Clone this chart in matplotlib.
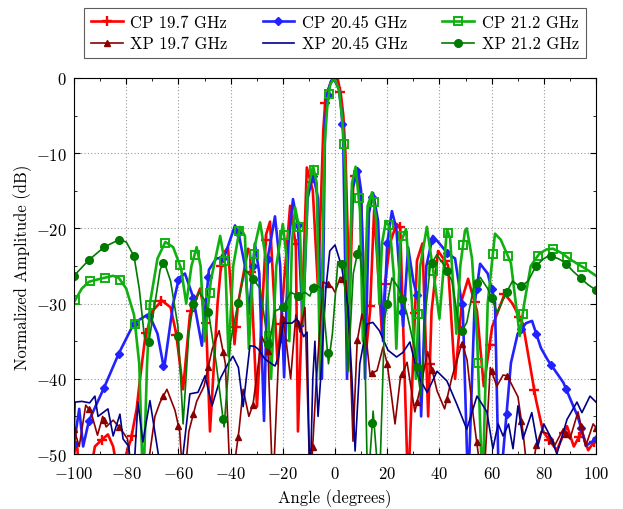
import numpy as np
import matplotlib
matplotlib.use("Agg")
import matplotlib.pyplot as plt
from matplotlib.ticker import MultipleLocator

plt.rcParams.update({
    "font.family": "serif",
    "font.serif": ["cmr10"],
    "mathtext.fontset": "cm",
    "axes.formatter.use_mathtext": True,
    "axes.unicode_minus": True,
})

# ── data (angle in degrees, amplitude in dB) ─────────────────────────────────
cp197_ang = [-100, -98.9, -97.5, -95, -92, -89, -87, -85, -82, -80, -78.2, -76, -74.7, -72.8,
             -70, -66.3, -63, -60.9, -58.2, -55.6, -51.7, -49.4, -47.9, -45, -43.3, -41, -38.5,
             -37.2, -33.3, -32.6, -29.9, -26.4, -24.9, -22, -17.2, -15, -14.2, -10.8, -8.5, -6.5,
             -4.5, -3.8, -2.5, -1.5, 1, 2.3, 3.2, 4, 5.6, 7, 8.3, 10, 12, 13.4, 15, 18, 19.2, 21,
             23.6, 25, 28, 31.4, 33.5, 35.7, 37, 39.5, 43.3, 46, 48.7, 51, 54.4, 57, 60.2, 65,
             68, 72, 77, 79.7, 82.4, 85, 88.9, 91.5, 94.6, 97, 100]
cp197_val = [-50, -48.4, -55, -55, -49, -48, -47.4, -49, -55, -50, -48.1, -44, -40, -34.7,
             -31, -29.6, -30.5, -33.9, -41.4, -31.5, -28, -32.3, -47, -30, -23.6, -22.5, -35.4,
             -30.1, -22.7, -23, -43.7, -20.8, -19.1, -38, -17, -22.3, -47, -11.9, -15, -28,
             -7, -3.5, -1.5, -0.5, 0, -2.3, -5, -10, -30, -14, -12.4, -16, -36, -31.1, -17.5,
             -34, -27.4, -22, -19.4, -19.9, -55, -24.3, -22, -45, -31, -23, -24.9, -40, -29.4,
             -26.7, -31, -41, -33.1, -28.7, -30, -32.7, -42.8, -47, -48.3, -49.5, -46.3, -49,
             -47, -49.5, -48]

cp2045_ang = [-100, -98, -96.5, -94.3, -88.5, -82.8, -77, -72, -70.9, -68, -65.5, -62, -59.8,
              -57.5, -54.4, -51, -48.3, -45.5, -42.5, -38.3, -36.8, -34.5, -33, -30.7, -29,
              -27.2, -25.7, -23, -21, -19.5, -17.8, -16.1, -14.2, -12.3, -10.5, -8.4, -6.5, -5,
              -3.8, -2.7, -1.5, -0.5, 1.5, 2.3, 3.1, 4.6, 6.5, 8.8, 10, 11.5, 13, 14.6, 16.5,
              18.4, 20, 21.8, 23.5, 26.1, 28, 30, 31.8, 33, 35, 37.5, 40, 43.3, 46, 49, 51, 53.5,
              55.6, 58.5, 61.3, 62.8, 64.4, 67.4, 70, 73.2, 75.5, 78.9, 81.5, 84.7, 87.5, 90.4,
              93, 96.2, 100]
cp2045_val = [-48.7, -44, -49, -45.6, -41.2, -36.6, -32.6, -31.5, -31.7, -34, -38.7, -30, -26.6,
              -26, -29.1, -35.6, -25.5, -24, -23.9, -19.6, -20.9, -25, -31.4, -22, -26,
              -45.6, -23.8, -18.4, -25, -39.8, -22, -16.1, -19.7, -33, -16, -12.8, -16, -40,
              -6, -1.7, -0.4, 0, -1.5, -3.8, -7.2, -40, -15, -12.1, -15, -40, -18, -15.3, -19,
              -35, -22, -17.7, -20, -33, -22.5, -27, -29.4, -45, -25, -21, -22, -23.4, -24, -31,
              -55, -30, -24.7, -26, -29.8, -55, -50, -37.9, -34, -32.6, -32.3, -35.9, -37.5,
              -39.1, -40.5, -42.9, -45, -48.9, -48]

cp212_ang = [-100, -97, -94.3, -90, -85, -82.8, -80, -77, -75, -73.5, -72, -70.9, -68, -65,
             -62, -59, -57, -55, -53, -51.5, -50, -48.5, -47.6, -44, -42, -40.8, -39, -36.4,
             -34.5, -33, -31.5, -30.7, -28.7, -26.5, -24.5, -22.5, -20, -18.5, -17.5, -16.5,
             -15.3, -13.4, -12.3, -10.5, -8.4, -7, -5.7, -4, -3, -1.9, -0.4, 1.5, 2.8, 3.9, 5,
             6.5, 7.9, 9.6, 10.7, 12.5, 14.2, 15.7, 17, 18, 19.5, 21, 22.5, 23.5, 25, 27.2, 29.5,
             31, 32.6, 35.2, 37.9, 40, 42.9, 44.1, 46.5, 48, 49.8, 50.5, 52.5, 54.5, 56.5, 58.5,
             61.3, 63.5, 67.4, 70.8, 72.4, 75, 78.2, 81, 83.5, 87, 90, 96.2, 100]
cp212_val = [-29.8, -28, -27.1, -26.7, -26.3, -26.6, -28, -31.5, -38, -55, -38, -30, -24, -21.8,
             -22.5, -25.3, -30, -25, -22.5, -25, -35, -30, -27, -21, -25, -37, -25, -19.8,
             -21, -36, -26, -22.3, -19.2, -24, -40, -25, -19.4, -24, -35, -22,
             -17.2, -20.5, -32.7, -15, -11.7, -14, -40, -9, -4, -0.9, 0, -1.5, -5.5, -12.1, -39,
             -14, -11.8, -17.8, -35, -17, -15.2, -18.6, -30, -22, -19, -19.9, -26, -36, -22,
             -20.1, -30, -40, -25.1, -19.8, -26.3, -32, -20.1, -21.3, -34, -25, -20.3, -20, -24,
             -35, -55, -30, -20.7, -21.5, -24.6, -34.3, -30.2, -25, -23.4, -22.8, -22.7, -23.3,
             -24.1, -25.4, -26.3]

xp197_ang = [-100, -98, -95.5, -93.5, -91, -89, -87.7, -85, -82, -79.5, -77, -74, -71, -69, -67,
             -64.4, -61.3, -59.5, -58, -56, -53, -50.2, -47, -44.4, -42, -40, -38, -36.8, -35.2,
             -33, -31.4, -28, -25.7, -23.8, -21.5, -20.3, -19.2, -17, -15, -13.4, -11.5, -9.5,
             -7.3, -4.6, -1.1, 0, 2, 4.2, 5.5, 6.9, 8.5, 10.3, 11.5, 13.4, 16.1, 18.4, 20, 21.8,
             23, 25, 27.6, 30.6, 33.3, 35.5, 39.1, 42, 44.8, 48.7, 50.6, 53, 56.8, 59.5, 62,
             64.4, 66, 70.1, 72, 74.5, 77, 79, 81.6, 84, 87.4, 90, 93.1, 96, 98.9, 100]
xp197_val = [-46.7, -49, -43.5, -44.4, -47.5, -45, -46.4, -45.5, -46.7, -48, -55, -55, -50, -45,
             -43.1, -41.4, -44.2, -47, -55, -47, -43, -41, -36, -33.6, -38, -55, -50, -46.9, -41.4,
             -45, -43.4, -34.4, -36.3, -55, -36, -31.4, -33.6, -40, -31.5, -33.8, -30.5, -55,
             -41.1, -27.1, -27.8, -28.5, -26.5, -27, -34, -48.3, -35, -31.4, -33, -39.4, -38.9,
             -35.8, -38, -42.7, -46, -40, -37.8, -44.4, -40.2, -36.4, -41.6, -44, -39.8, -35.2,
             -37.5, -45, -55, -38.5, -41, -39.5, -39.6, -42.4, -47, -55, -49, -47, -47.3, -49,
             -46.7, -48, -44.4, -49, -46, -46.5]

xp2045_ang = [-100, -99.6, -97, -94, -92, -90.8, -87, -85, -82.4, -81.2, -79, -77.5, -75.5,
              -73.6, -70.9, -67.8, -65, -62, -60, -58.2, -55.6, -52.5, -49.8, -47.1, -44, -41,
              -39.1, -37, -35.2, -32.6, -30.7, -29.3, -26.8, -23, -21.7, -19.8, -16.5, -14.6,
              -12, -10.7, -9.6, -8.5, -7.7, -6.5, -5.5, -3.5, -2, 0, 2.5, 5, 6.5, 7.7, 9.5, 12.3,
              14.5, 17, 20.3, 23.6, 26, 28.7, 31.8, 35.3, 39.1, 42.9, 46.7, 50.5, 54.4, 58.2,
              60.5, 62.5, 64.4, 66.5, 68.2, 70.1, 72, 75.4, 77.7, 80, 83, 85, 88.9, 92.7, 94.6,
              97.7, 100]
xp2045_val = [-48.9, -43.1, -43, -43.2, -42.3, -45, -44, -47.6, -44.7, -48, -49, -55, -43.1,
              -48.4, -42.9, -49.8, -55, -55, -55, -50, -42, -41.8, -39.6, -43.6, -40, -38,
              -37, -38.5, -43.7, -35.6, -35.7, -36.1, -37.4, -38.3, -37.1, -32.6, -32.6, -32,
              -34.4, -33.8, -55, -40, -35, -45, -40, -28, -23, -22.2, -25, -30.5, -40, -49.6,
              -38, -32.7, -32.5, -33.6, -36.2, -37.1, -36.5, -35.1, -39.6, -41.8, -39, -40.3,
              -43.4, -46.7, -42.3, -44.4, -49.3, -46, -47.6, -46, -49.3, -43.6, -48, -44.5,
              -49, -46, -48, -50, -45.4, -43.1, -44.5, -42.3, -43.1]

xp212_ang = [-100, -94.3, -88.5, -82.8, -80, -77, -75, -73, -71.3, -69, -67, -65.5, -63, -60.2,
             -58.2, -56, -54.4, -52, -50, -48.3, -45.5, -42.5, -40, -37.2, -34.5, -31.4, -28.7,
             -27, -25.5, -23, -20, -17, -14, -11.5, -9.6, -8, -5, -2.5, -1, 1.1, 3.4, 5, 7, 9.2,
             11, 12.5, 14.6, 17, 19, 21.8, 24.5, 27.6, 30.5, 32.9, 35, 36.5, 39, 42, 44.8, 48,
             50.5, 53, 55.6, 58.5, 62.2, 65, 68, 71, 74, 77, 79.7, 82, 85.4, 88, 91.2, 97, 100]
xp212_val = [-26.3, -24.2, -22.5, -21.5, -21.8, -23.7, -28, -34.5, -35.1, -30, -25.5, -24.4, -27,
             -33, -46, -34, -30.2, -28.5, -29.5, -31.5, -38, -46.4, -35, -30, -25.5, -26.7, -28,
             -32, -36, -31, -30.5, -28.5, -29, -28.5, -29, -27.4, -28, -38, -34, -24.4, -24.8,
             -39, -26, -22.3, -28, -55, -44.3, -55, -32, -26.6, -28, -31.4, -36, -42.3, -30,
             -25, -23.5, -25, -27, -34, -32.5, -28, -26.5, -28, -31.2, -29, -27, -27.8, -27,
             -25, -24.1, -23.6, -24, -24.5, -25.7, -27.5, -28.2]

labels = ["CP 19.7 GHz", "CP 20.45 GHz", "CP 21.2 GHz",
          "XP 19.7 GHz", "XP 20.45 GHz", "XP 21.2 GHz"]

# style per series: colour, marker, marker size, line width, first mark angle
STYLES = [
    dict(color="#ff0000", marker="+", ms=7.5, mew=1.7, lw=1.9, mk0=-100.8),
    dict(color="#2222ff", marker="D", ms=4.5, mew=1.0, lw=1.9, mk0=-100.0),
    dict(color="#10b010", marker="s", ms=6, mew=1.4, lw=1.9, mk0=-99.5, mfc="none"),
    dict(color="#8b0000", marker="^", ms=5, mew=1.0, lw=1.2, mk0=-100.0),
    dict(color="#00008b", marker=None, ms=0, mew=0, lw=1.2, mk0=None),
    dict(color="#007a00", marker="o", ms=5.5, mew=1.0, lw=1.2, mk0=-100.0),
]
SERIES = [(cp197_ang, cp197_val), (cp2045_ang, cp2045_val), (cp212_ang, cp212_val),
          (xp197_ang, xp197_val), (xp2045_ang, xp2045_val), (xp212_ang, xp212_val)]
MK_STEP = 200 / 35

fig = plt.figure(figsize=(6.23, 5.10), dpi=100)
ax = fig.add_axes([74/623, 1-455/510, (596-74)/623, (455-79)/510])

handles = []
for (a, v), st, lab in zip(SERIES, STYLES, labels):
    a = np.asarray(a, float); v = np.asarray(v, float)
    ax.plot(a, v, color=st["color"], lw=st["lw"], solid_joinstyle="round")
    if st["marker"]:
        mk = np.arange(st["mk0"], 100.01, MK_STEP)
        mk = mk[mk >= -100.5]
        ax.plot(mk, np.interp(mk, a, v), ls="none", marker=st["marker"], ms=st["ms"],
                mew=st["mew"], color=st["color"], mfc=st.get("mfc", st["color"]))
    h, = ax.plot([], [], color=st["color"], lw=st["lw"], marker=st["marker"], ms=st["ms"],
                 mew=st["mew"], mfc=st.get("mfc", st["color"]))
    handles.append((h, lab))

ax.set_xlim(-100, 100)
ax.set_ylim(-50, 0)
ax.xaxis.set_major_locator(MultipleLocator(20))
ax.xaxis.set_minor_locator(MultipleLocator(10))
ax.yaxis.set_major_locator(MultipleLocator(10))
ax.yaxis.set_minor_locator(MultipleLocator(5))
ax.tick_params(which="both", direction="in", top=True, right=True, labelsize=12)
ax.tick_params(which="major", length=4)
ax.tick_params(which="minor", length=2)
ax.tick_params(axis="x", pad=8)
ax.tick_params(axis="y", pad=5)
ax.grid(True, which="major", linestyle=(0, (1, 2)), color="0.6", linewidth=0.8)
ax.set_xlabel("Angle (degrees)", fontsize=12, labelpad=5)
ax.set_ylabel("Normalized Amplitude (dB)", fontsize=12, labelpad=3)

order = [0, 3, 1, 4, 2, 5]
leg = ax.legend([handles[i][0] for i in order], [handles[i][1] for i in order],
                ncol=3, loc="lower center", bbox_to_anchor=(0.5, 1.053), fontsize=12,
                frameon=True, fancybox=False, edgecolor="0.2", handlelength=1.9,
                handletextpad=0.45, columnspacing=2.1, labelspacing=0.35,
                borderpad=0.4, borderaxespad=0)
leg.get_frame().set_linewidth(0.8)

fig.savefig("out.png", dpi=100)
